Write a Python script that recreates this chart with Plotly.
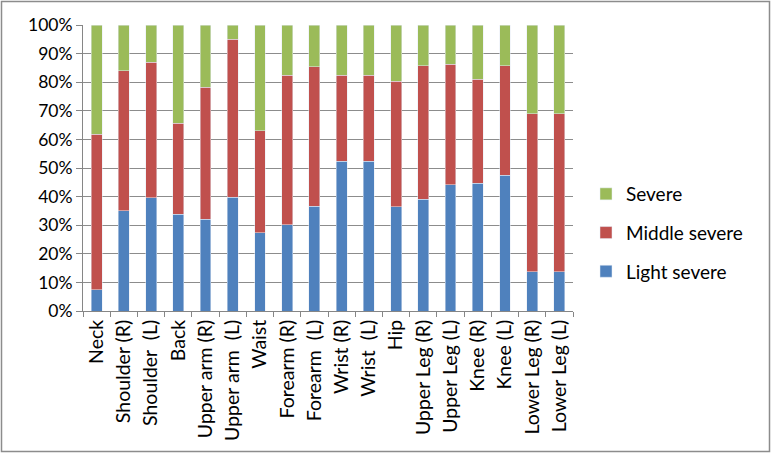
import plotly.graph_objects as go

categories = ["Neck", "Shoulder (R)", "Shoulder  (L)", "Back", "Upper arm (R)", "Upper arm  (L)",
              "Waist", "Forearm (R)", "Forearm  (L)", "Wrist (R)", "Wrist  (L)", "Hip",
              "Upper Leg (R)", "Upper Leg (L)", "Knee (R)", "Knee (L)", "Lower Leg (R)", "Lower Leg (L)"]
light = [7.5, 35.0, 39.6, 33.8, 32.0, 39.8, 27.3, 30.2, 36.6, 52.3, 52.3, 36.5, 39.0, 44.2, 44.7, 47.4, 13.8, 13.8]
middle_cum = [61.8, 84.0, 86.9, 65.7, 78.2, 95.1, 63.0, 82.4, 85.4, 82.4, 82.4, 80.3, 85.8, 86.2, 81.0, 85.8, 69.0, 69.0]
middle = [round(m - l, 1) for m, l in zip(middle_cum, light)]
severe = [round(100 - m, 1) for m in middle_cum]
y_ticks = list(range(0, 101, 10))
y_tick_labels = [f"{v}%" for v in y_ticks]

FONT = "Lato, 'Open Sans', sans-serif"

fig = go.Figure()
fig.add_trace(go.Bar(x=categories, y=light, name="Light severe", marker_color="#4F81BD",
                     legendgroup="a", legendrank=3))
fig.add_trace(go.Bar(x=categories, y=middle, name="Middle severe", marker_color="#C0504D",
                     legendgroup="b", legendrank=2))
fig.add_trace(go.Bar(x=categories, y=severe, name="Severe", marker_color="#9BBB59",
                     legendgroup="c", legendrank=1))

W, H = 771, 463
L, R, T, B = 83, 198, 25, 152
pw, ph = W - L - R, H - T - B

def px_x(x):
    return (x - L) / pw

def px_y(y):
    return (H - B - y) / ph

fig.update_layout(
    barmode="stack",
    bargap=0.6,
    width=W, height=H,
    margin=dict(l=L, r=R, t=T, b=B, pad=0, autoexpand=False),
    paper_bgcolor="white",
    plot_bgcolor="white",
    font=dict(family=FONT, size=19, color="#000000"),
    showlegend=True,
    legend=dict(
        x=px_x(586), y=px_y(175), xanchor="left", yanchor="top",
        traceorder="grouped", font=dict(size=19, family=FONT),
        itemwidth=30, tracegroupgap=11, bgcolor="rgba(0,0,0,0)",
    ),
    xaxis=dict(
        type="category",
        tickangle=-90,
        showline=True, linecolor="#868686", linewidth=1,
        ticks="outside", tickson="boundaries", ticklen=5, tickcolor="#868686",
        tickfont=dict(size=19.5, family=FONT),
        showgrid=False,
    ),
    yaxis=dict(
        range=[0, 100], tickvals=y_ticks, ticktext=y_tick_labels,
        showline=True, linecolor="#868686", linewidth=1,
        ticks="outside", ticklen=6, tickcolor="#868686",
        showgrid=True, gridcolor="#8C8C8C", gridwidth=1,
        tickfont=dict(size=17.5, family=FONT),
        zeroline=False,
    ),
    shapes=[dict(
        type="rect", xref="paper", yref="paper",
        x0=px_x(1.5), x1=px_x(769.5), y0=px_y(451.5), y1=px_y(1.5),
        line=dict(color="#8C8C8C", width=1.5), fillcolor="rgba(0,0,0,0)", layer="below",
    )],
)

fig.write_html("out.html", config={"displayModeBar": False},
               post_script="document.body.style.margin='0px';")
